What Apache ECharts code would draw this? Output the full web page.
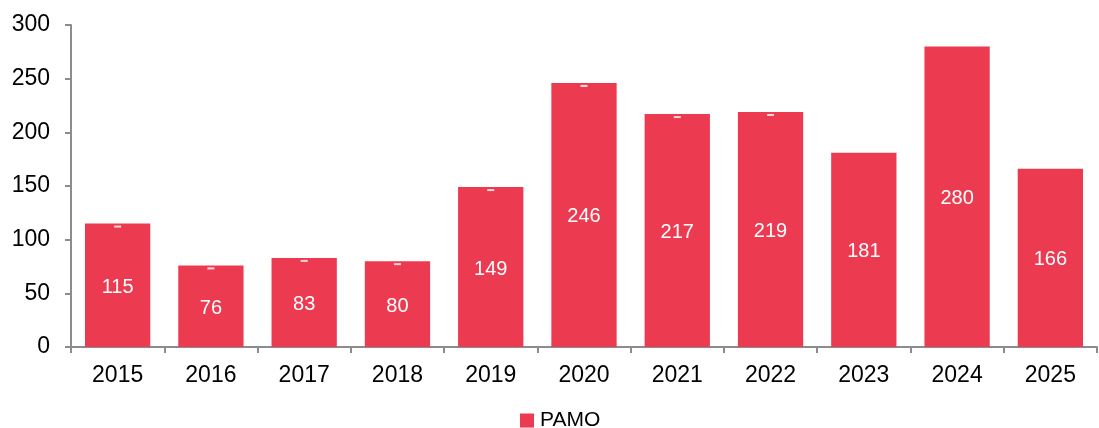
<!DOCTYPE html>
<html>
<head>
<meta charset="utf-8">
<script src="https://cdn.jsdelivr.net/npm/echarts@6/dist/echarts.min.js"></script>
<style>html,body{margin:0;padding:0;background:#fff}#c{width:1099px;height:428px}</style>
</head>
<body>
<div id="c"></div>
<script>
const categories = ['2015','2016','2017','2018','2019','2020','2021','2022','2023','2024','2025'];
const pamo = [115, 76, 83, 80, 149, 246, 217, 219, 181, 280, 166];
const hasMarker = [true, true, true, true, true, true, true, true, false, false, false];
const yTicks = {min: 0, max: 300, interval: 50};

const chart = echarts.init(document.getElementById('c'), null, {renderer: 'canvas'});
const font = 'Arial, "Liberation Sans", sans-serif';
chart.setOption({
  animation: false,
  grid: {left: 71, right: 2, top: 25, bottom: 81, containLabel: false},
  legend: {
    top: 410, left: 520, padding: 0, itemWidth: 14, itemHeight: 14, itemGap: 6,
    icon: 'rect',
    data: ['PAMO'],
    textStyle: {fontFamily: font, fontSize: 21, color: '#000', padding: [0, 0, 0, 1]}
  },
  xAxis: {
    type: 'category', data: categories,
    axisLine: {lineStyle: {color: '#8c8c8c', width: 2}},
    axisTick: {show: true, length: 6, alignWithLabel: false, lineStyle: {color: '#8c8c8c', width: 2}},
    axisLabel: {fontFamily: font, fontSize: 23, color: '#000', margin: 17}
  },
  yAxis: {
    type: 'value', min: yTicks.min, max: yTicks.max, interval: yTicks.interval,
    splitLine: {show: false},
    axisLine: {show: true, lineStyle: {color: '#8c8c8c', width: 2}},
    axisTick: {show: true, length: 6, lineStyle: {color: '#8c8c8c', width: 2}},
    axisLabel: {fontFamily: font, fontSize: 23, color: '#000', margin: 21}
  },
  series: [
    {
      name: 'PAMO', type: 'bar', data: pamo, barCategoryGap: '30%',
      itemStyle: {color: '#EC3A51'},
      label: {show: true, position: 'inside', color: '#fff', fontFamily: font, fontSize: 20, offset: [0, 2]}
    },
    {
      name: 'marker', type: 'scatter', z: 5,
      data: pamo.map((v, i) => hasMarker[i] ? v : null),
      symbol: 'rect', symbolSize: [7, 2], symbolOffset: [0, 3],
      itemStyle: {color: '#fff'}, silent: true
    }
  ]
});
</script>
</body>
</html>
